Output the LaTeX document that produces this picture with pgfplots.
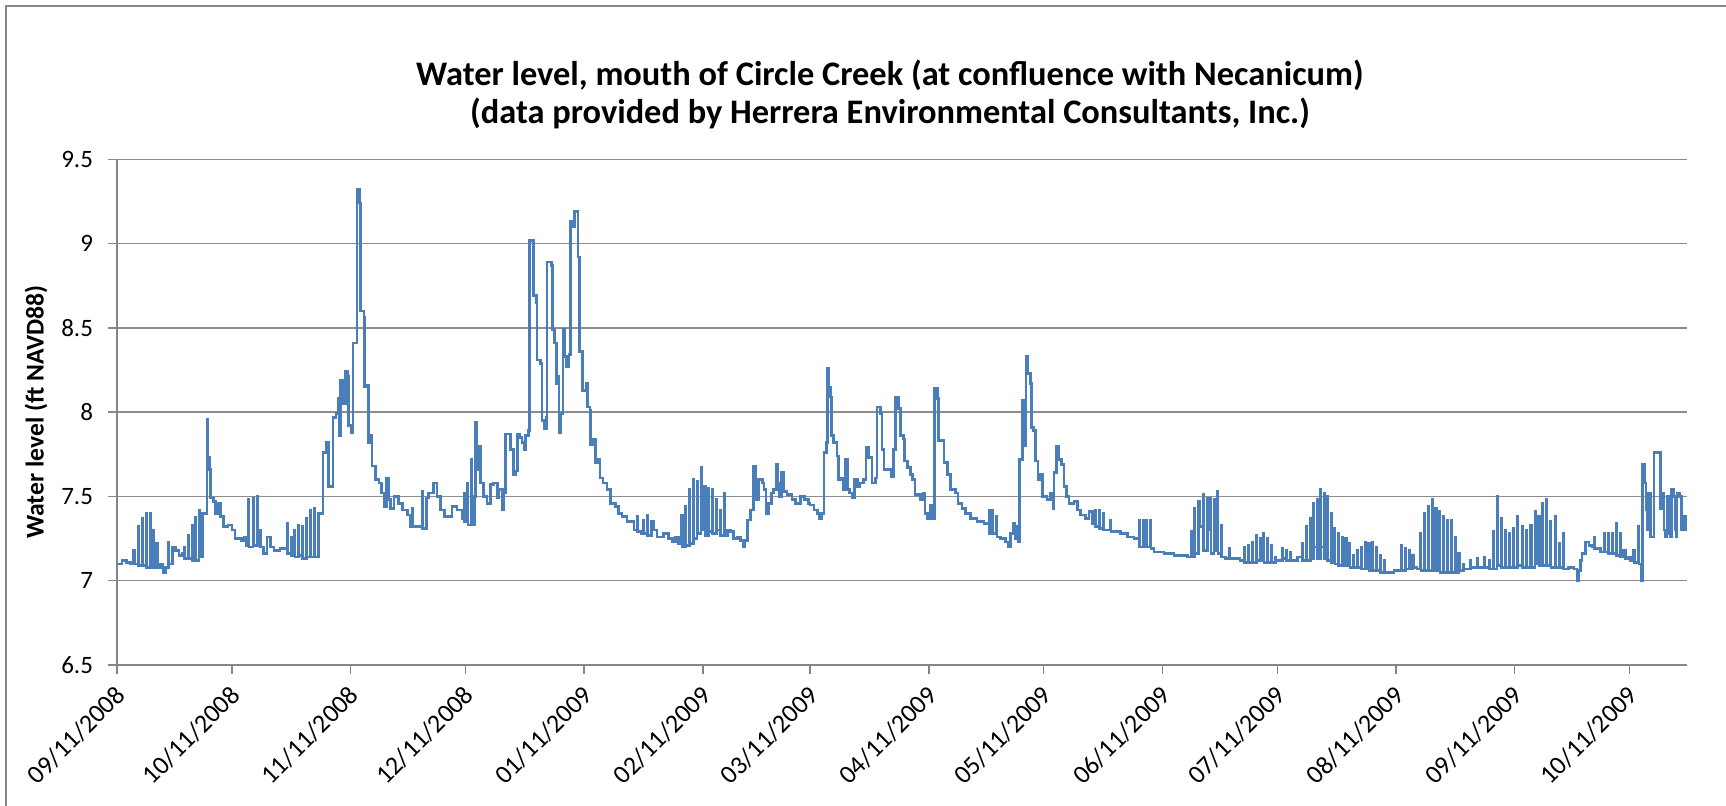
\documentclass[border=0pt]{standalone}
\usepackage{fontspec}
\setmainfont{Carlito}
\usepackage{pgfplots}
\pgfplotsset{compat=1.18}
\definecolor{excelblue}{RGB}{74,126,187}
\definecolor{axgray}{RGB}{134,134,134}
\definecolor{gridgray}{RGB}{140,140,140}
\pgfplotstableread{
d v
0 7.10
1.3 7.12
2.5 7.11
3.5 7.10
4.4 7.18
4.5 7.10
5.5 7.32
5.6 7.09
6.6 7.37
6.7 7.09
7.6 7.40
7.7 7.08
8.6 7.40
8.7 7.08
9.5 7.30
9.6 7.08
10.4 7.22
10.5 7.08
11.3 7.10
12.0 7.05
12.6 7.08
13.5 7.23
13.6 7.10
14.5 7.20
15.3 7.18
16.2 7.15
17.0 7.16
17.6 7.20
17.7 7.13
18.6 7.27
18.7 7.13
19.6 7.33
19.7 7.12
20.5 7.375
20.6 7.12
21.4 7.42
21.5 7.14
22.4 7.40
23.5 7.96
23.7 7.73
24.1 7.66
24.4 7.49
25.2 7.47
25.8 7.40
26.4 7.46
27.0 7.38
27.8 7.32
29.0 7.33
30.0 7.30
30.8 7.25
32.5 7.24
33.2 7.26
33.9 7.21
34.4 7.48
34.5 7.20
35.5 7.49
35.6 7.21
36.6 7.50
36.8 7.30
37.4 7.20
38.3 7.16
39.2 7.26
40.0 7.20
41.0 7.18
42.6 7.19
44.4 7.34
44.5 7.16
45.4 7.26
45.5 7.15
46.4 7.30
46.5 7.14
47.4 7.33
47.5 7.15
48.4 7.32
48.5 7.13
49.5 7.37
49.6 7.14
50.5 7.42
50.6 7.14
51.5 7.43
51.6 7.14
52.7 7.40
53.8 7.76
54.6 7.82
55.3 7.56
56.4 7.97
57.2 7.99
57.7 8.08
58.0 7.86
58.4 8.19
59.0 8.05
59.7 8.24
60.2 8.21
60.5 7.92
61.2 7.88
61.6 8.41
62.7 9.32
63.4 9.24
63.6 8.60
64.5 8.56
64.6 8.15
65.5 8.16
65.7 7.82
66.1 7.86
66.6 7.68
67.5 7.60
68.4 7.58
69.0 7.52
69.7 7.44
70.4 7.61
70.9 7.48
71.4 7.43
72.3 7.50
73.6 7.46
74.5 7.42
75.8 7.39
76.6 7.32
77.1 7.43
77.2 7.32
78.8 7.32
79.7 7.53
79.8 7.31
80.8 7.49
81.4 7.52
82.6 7.58
83.6 7.50
84.5 7.42
85.5 7.38
87.5 7.44
88.8 7.42
90.1 7.37
90.6 7.52
90.7 7.35
91.6 7.58
91.7 7.33
92.5 7.72
92.6 7.33
93.3 7.50
93.7 7.94
94.0 7.66
94.4 7.80
94.9 7.58
95.8 7.50
96.6 7.46
97.5 7.57
98.4 7.58
99.3 7.49
99.7 7.54
100.6 7.42
101.0 7.52
101.4 7.87
102.3 7.87
102.7 7.78
103.6 7.63
104.0 7.65
104.5 7.87
105.2 7.85
105.8 7.82
106.4 7.78
106.7 7.86
107.5 7.89
107.7 9.02
108.7 9.02
108.8 8.69
109.6 8.65
109.7 8.31
110.6 8.29
111.0 7.95
111.6 7.90
112.1 7.97
112.3 8.89
113.4 8.87
113.8 8.49
114.3 8.41
114.7 8.17
115.3 8.21
115.4 7.88
115.8 7.99
116.5 8.49
116.9 8.33
117.3 8.27
118.0 8.34
118.4 9.13
119.0 9.10
119.5 9.19
120.4 8.92
120.8 8.36
121.5 8.35
121.6 8.13
122.5 8.17
122.8 8.03
123.5 8.01
123.6 7.81
124.4 7.84
124.9 7.70
125.5 7.72
126.1 7.61
126.9 7.58
128.0 7.54
128.9 7.46
130.2 7.44
131.0 7.40
131.9 7.38
133.2 7.35
135.0 7.30
135.8 7.38
135.9 7.29
137.0 7.28
137.4 7.36
137.5 7.28
138.4 7.39
138.5 7.27
139.5 7.35
140.2 7.30
141.0 7.26
142.8 7.28
144.1 7.25
145.0 7.23
145.9 7.26
146.7 7.22
147.5 7.39
147.6 7.20
148.5 7.44
148.6 7.21
149.5 7.54
149.6 7.22
150.5 7.60
150.6 7.25
151.5 7.59
151.6 7.28
152.5 7.67
152.6 7.30
153.5 7.56
153.6 7.27
154.5 7.55
154.6 7.29
155.5 7.54
155.6 7.28
156.5 7.48
156.6 7.30
157.5 7.42
157.6 7.27
158.6 7.52
158.7 7.27
159.5 7.30
160.3 7.29
161.0 7.25
162.0 7.26
162.8 7.24
163.5 7.20
164.0 7.24
164.6 7.36
165.4 7.42
166.3 7.68
166.7 7.48
167.6 7.60
168.5 7.58
169.0 7.54
169.5 7.40
170.2 7.46
170.9 7.52
171.5 7.54
172.2 7.69
172.6 7.58
173.0 7.50
173.5 7.64
174.1 7.53
175.0 7.51
176.3 7.48
177.1 7.46
178.5 7.50
179.5 7.48
180.5 7.46
181.0 7.45
182.0 7.42
183.0 7.40
183.5 7.37
184.1 7.40
184.6 7.76
185.2 7.82
185.5 8.26
185.8 8.15
186.3 8.09
186.5 7.86
187.2 7.82
188.0 7.74
188.5 7.60
189.0 7.61
189.6 7.54
190.2 7.72
190.7 7.54
191.3 7.52
192.0 7.49
192.6 7.60
193.3 7.56
194.0 7.58
195.0 7.60
195.6 7.79
196.2 7.73
197.2 7.58
198.0 7.61
198.5 8.03
199.3 7.99
199.8 7.78
200.3 7.66
201.5 7.66
202.2 7.62
202.7 7.78
203.3 8.09
204.0 8.02
204.6 7.86
205.3 7.84
205.6 7.71
206.5 7.67
207.2 7.63
207.7 7.60
208.4 7.51
209.8 7.48
210.5 7.52
211.0 7.40
211.6 7.37
212.3 7.45
212.9 7.37
213.5 8.14
214.2 8.08
214.6 7.83
216.0 7.70
216.8 7.63
217.7 7.54
219.0 7.52
219.6 7.46
220.7 7.43
221.6 7.40
222.9 7.37
224.6 7.35
226.4 7.34
227.7 7.42
227.8 7.28
228.7 7.42
228.8 7.28
229.7 7.38
229.8 7.26
230.7 7.25
232.0 7.23
232.7 7.20
233.3 7.28
234.0 7.34
234.5 7.25
235.1 7.32
235.5 7.23
235.7 7.72
236.4 8.07
236.8 7.80
237.4 8.33
237.7 8.23
238.6 8.17
238.8 7.91
239.4 7.89
239.9 7.71
240.5 7.60
241.2 7.63
241.6 7.50
242.9 7.48
243.8 7.52
244.5 7.43
244.7 7.64
245.4 7.80
246.0 7.72
246.6 7.69
247.3 7.56
247.9 7.50
248.6 7.46
249.9 7.47
250.8 7.42
251.6 7.39
252.9 7.37
253.8 7.41
254.7 7.34
255.5 7.42
255.6 7.32
256.5 7.42
256.6 7.31
257.6 7.40
257.7 7.30
258.6 7.30
259.5 7.36
259.6 7.29
262.1 7.28
263.8 7.26
265.6 7.25
266.9 7.36
267.0 7.20
267.9 7.36
268.0 7.20
268.9 7.36
269.0 7.20
269.9 7.36
270.0 7.19
270.8 7.17
273.4 7.16
276.0 7.15
279.5 7.14
280.5 7.29
280.6 7.14
281.4 7.43
281.5 7.16
282.5 7.47
282.6 7.32
283.7 7.51
283.8 7.18
284.7 7.49
284.8 7.30
285.6 7.49
285.7 7.16
286.5 7.48
286.6 7.18
287.4 7.53
287.5 7.16
288.4 7.33
288.5 7.14
289.5 7.13
290.4 7.19
290.5 7.13
292.0 7.13
293.3 7.12
294.3 7.20
294.4 7.11
295.5 7.21
295.6 7.11
296.5 7.23
296.6 7.11
297.6 7.27
297.7 7.12
298.5 7.25
298.6 7.12
299.4 7.28
299.5 7.11
300.5 7.25
300.6 7.11
301.5 7.21
301.6 7.11
302.6 7.14
302.7 7.12
304.3 7.19
304.4 7.13
305.4 7.18
305.5 7.12
306.5 7.17
306.6 7.12
308.2 7.14
309.5 7.22
309.6 7.12
310.6 7.32
310.7 7.12
311.6 7.37
311.7 7.13
312.5 7.46
312.6 7.20
313.4 7.48
313.5 7.13
314.3 7.54
314.4 7.20
315.2 7.52
315.3 7.13
316.1 7.50
316.2 7.12
317.0 7.40
317.1 7.11
318.0 7.31
318.1 7.10
318.9 7.28
319.0 7.09
319.9 7.26
320.0 7.09
320.9 7.25
321.0 7.09
321.9 7.22
322.0 7.08
322.9 7.15
323.0 7.08
323.9 7.18
324.0 7.08
324.9 7.20
325.0 7.07
325.9 7.23
326.0 7.07
326.9 7.22
327.0 7.06
327.9 7.23
328.0 7.06
328.9 7.20
329.0 7.06
329.9 7.15
330.0 7.05
330.9 7.12
331.0 7.05
333.5 7.06
335.4 7.21
335.5 7.06
336.4 7.19
336.5 7.07
337.4 7.18
337.5 7.07
338.4 7.15
338.5 7.08
339.5 7.07
340.4 7.28
340.5 7.06
341.4 7.40
341.5 7.06
342.4 7.44
342.5 7.06
343.4 7.48
343.5 7.06
344.4 7.43
344.5 7.06
345.4 7.41
345.5 7.05
346.4 7.38
346.5 7.05
347.4 7.36
347.5 7.05
348.4 7.36
348.5 7.05
349.4 7.26
349.5 7.05
350.4 7.16
350.5 7.06
351.7 7.10
351.8 7.07
353.5 7.12
353.6 7.08
355.2 7.13
355.3 7.08
357.0 7.14
357.1 7.08
358.3 7.12
358.4 7.07
359.4 7.29
359.5 7.07
360.4 7.50
360.5 7.09
361.4 7.37
361.5 7.08
362.5 7.30
362.6 7.08
363.6 7.28
363.7 7.08
364.7 7.31
364.8 7.08
365.8 7.38
365.9 7.09
366.9 7.32
367.0 7.08
368.0 7.30
368.1 7.08
369.2 7.33
369.3 7.08
370.3 7.41
370.4 7.10
371.3 7.38
371.4 7.09
372.3 7.46
372.4 7.09
373.3 7.48
373.4 7.09
374.4 7.35
374.5 7.08
375.5 7.38
375.6 7.08
376.6 7.22
376.7 7.08
377.6 7.28
377.7 7.07
379.0 7.08
380.5 7.07
381.3 7.00
381.6 7.06
382.2 7.12
382.6 7.16
383.5 7.23
384.4 7.21
385.2 7.20
385.7 7.26
385.8 7.19
387.0 7.19
387.5 7.17
388.3 7.28
388.4 7.17
389.4 7.28
389.5 7.16
390.5 7.28
390.6 7.16
391.5 7.34
391.6 7.15
392.5 7.28
392.6 7.14
393.5 7.18
394.0 7.13
394.8 7.14
395.3 7.12
396.1 7.18
396.2 7.11
397.4 7.32
397.5 7.10
398.1 7.00
398.3 7.69
398.9 7.58
399.3 7.42
399.7 7.30
400.0 7.52
400.5 7.26
401.4 7.76
402.7 7.76
403.1 7.43
403.4 7.52
404.0 7.30
404.4 7.26
404.8 7.50
405.2 7.28
405.7 7.26
405.9 7.54
406.6 7.50
407.0 7.30
407.2 7.26
407.4 7.52
408.1 7.50
408.5 7.30
408.8 7.38
409.6 7.30
410.0 7.30
}\datatable
\begin{document}
\begin{tikzpicture}
\useasboundingbox (0,0) rectangle (863pt,403pt);
\draw[axgray, line width=0.75pt] (3pt,-5pt) -- (3pt,400pt) -- (870pt,400pt);
\node[font=\bfseries\fontsize{17.2}{19}\selectfont, align=center] at (445pt,356pt)
  {Water level, mouth of Circle Creek (at confluence with Necanicum)\\(data provided by Herrera Environmental Consultants, Inc.)};
\begin{axis}[
  at={(58.5pt,70.5pt)}, anchor=south west,
  scale only axis, width=785pt, height=252.85pt,
  xmin=0, xmax=410, ymin=6.5, ymax=9.5,
  axis x line*=bottom, axis y line*=left,
  axis line style={-, draw=axgray, line width=0.75pt},
  tick align=outside, major tick length=4.5pt,
  tick style={draw=axgray, line width=0.75pt},
  ymajorgrids, grid style={draw=gridgray, line width=0.75pt},
  ytick={6.5,7,7.5,8,8.5,9,9.5},
  yticklabels={6.5,7,7.5,8,8.5,9,9.5},
  xtick={0,30,61,91,122,153,181,212,242,273,303,334,365,395},
  xticklabels={09/11/2008,10/11/2008,11/11/2008,12/11/2008,01/11/2009,02/11/2009,03/11/2009,04/11/2009,05/11/2009,06/11/2009,07/11/2009,08/11/2009,09/11/2009,10/11/2009},
  yticklabel style={font=\fontsize{12.5}{15}\selectfont, anchor=east, xshift=-4pt},
  xticklabel style={font=\fontsize{13}{15}\selectfont, xshift=4.3pt, yshift=-6pt, rotate=45, anchor=east},
  ylabel={Water level (ft NAVD88)},
  ylabel style={font=\bfseries\fontsize{12.8}{14}\selectfont, at={(axis description cs:-0.0516,0.5)}, anchor=center},
  clip=false,
]
\addplot[const plot, color=excelblue, line width=1.35pt, line join=miter] table[x=d, y=v] {\datatable};
\end{axis}
\end{tikzpicture}
\end{document}
